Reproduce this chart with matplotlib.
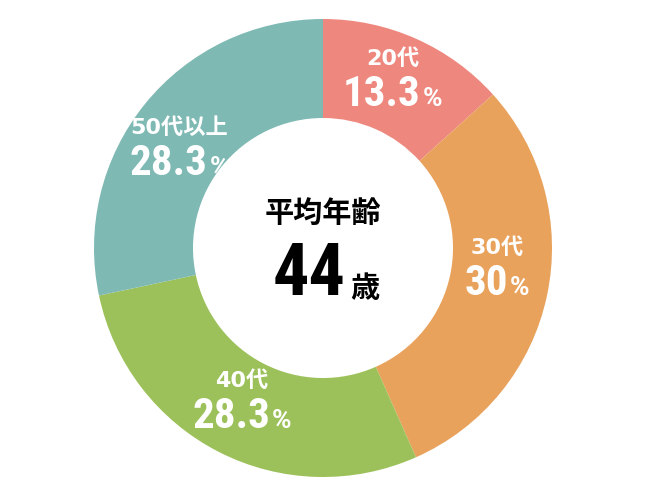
import matplotlib
matplotlib.use("Agg")
import matplotlib.pyplot as plt
import numpy as np

# ---- data ----
categories = ["20代", "30代", "40代", "50代以上"]
shares = [13.3, 30.0, 28.3, 28.3]
share_labels = ["13.3", "30", "28.3", "28.3"]
colors = ["#EE877D", "#E8A25B", "#9DC15A", "#7EB9B4"]
center_title = "平均年齢"
center_value = "44"
center_unit = "歳"

# layout tweaks (label angle nudge in degrees, radius as fraction)
label_nudge = [1.6, 5.3, -1.2, 3.7]
label_radius = [0.80, 0.765, 0.755, 0.765]

CJK = ["Noto Sans CJK JP", "DejaVu Sans"]
SMALL = ["DejaVu Sans", "Noto Sans CJK JP"]
NUM = ["Roboto Condensed", "Noto Sans Condensed", "Liberation Sans Narrow",
       "Open Sans Condensed", "Roboto", "DejaVu Sans"]
PCT = ["Roboto", "DejaVu Sans"]

W, H = 650, 500
CX, CY, R = 323, 248, 229  # pixel centre (from top) and radius

fig = plt.figure(figsize=(W / 100, H / 100), dpi=100)
ax = fig.add_axes([0, 0, 1, 1])
wedges, _ = ax.pie(shares, colors=colors, startangle=90, counterclock=False,
                   radius=1.0, wedgeprops=dict(width=99 / R, linewidth=0))
ax.set_xlim(-CX / R, (W - CX) / R)
ax.set_ylim(-(H - CY) / R, CY / R)
ax.set_aspect("equal", adjustable="box")
ax.axis("off")

fig.canvas.draw()
rend = fig.canvas.get_renderer()


def px(v):
    return v / R


def number_with_pct(x, y, num, size_num, size_pct, color):
    tn = ax.text(x, y, num, ha="left", va="baseline", fontsize=size_num,
                 family=NUM, fontweight="bold", color=color)
    tp = ax.text(x, y, "%", ha="left", va="baseline", fontsize=size_pct,
                 family=PCT, fontweight="bold", color=color)
    wn = tn.get_window_extent(rend).width
    wp = tp.get_window_extent(rend).width
    gap = 2
    left = x - px(wn + gap + wp) / 2
    tn.set_x(left)
    tp.set_x(left + px(wn + gap))


# segment labels
cum = np.cumsum([0] + shares[:-1])
for cat, s, c0, lab, nd, rr in zip(categories, shares, cum, share_labels,
                                    label_nudge, label_radius):
    mid = np.deg2rad(90 - (c0 + s / 2) * 3.6 + nd)
    bx = rr * np.cos(mid)
    by = rr * np.sin(mid)
    base = by - px(27)
    number_with_pct(bx, base, lab, 31, 19, "white")
    ax.text(bx, base + px(47), cat, ha="center", va="center", fontsize=16,
            family=SMALL, fontweight="bold", color="white")

# centre text
ax.text(0, px(CY - 213), center_title, ha="center", va="center", fontsize=21,
        family=CJK, fontweight="bold", color="black")
tv = ax.text(0, px(CY - 295), center_value, ha="left", va="baseline", fontsize=52,
             family=NUM, fontweight="bold", color="black")
tu = ax.text(0, px(CY - 297), center_unit, ha="left", va="baseline", fontsize=21,
             family=CJK, fontweight="bold", color="black")
wv = tv.get_window_extent(rend).width
wu = tu.get_window_extent(rend).width
gap = 5
left = px(326 - CX) - px(wv + gap + wu) / 2
tv.set_x(left)
tu.set_x(left + px(wv + gap))

fig.savefig("out.png", dpi=100, facecolor="white")
